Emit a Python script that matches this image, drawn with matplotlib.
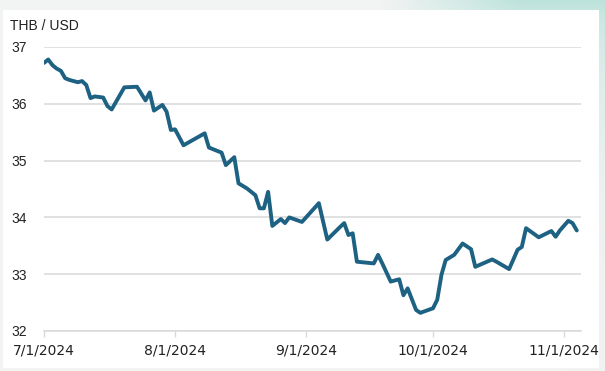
import numpy as np
import pandas as pd
import matplotlib
matplotlib.use("Agg")
import matplotlib.pyplot as plt
from matplotlib.patches import Rectangle

# Baht per US dollar, Jul - early Nov 2024
dates = [
    "2024-07-01", "2024-07-02", "2024-07-03", "2024-07-04", "2024-07-05",
    "2024-07-06", "2024-07-07", "2024-07-09", "2024-07-10", "2024-07-11",
    "2024-07-12", "2024-07-13", "2024-07-15", "2024-07-16", "2024-07-17",
    "2024-07-20", "2024-07-23", "2024-07-24", "2024-07-25", "2024-07-26",
    "2024-07-27", "2024-07-29", "2024-07-30", "2024-07-31", "2024-08-01",
    "2024-08-03", "2024-08-08", "2024-08-09", "2024-08-12", "2024-08-13",
    "2024-08-15", "2024-08-16", "2024-08-18", "2024-08-20", "2024-08-21",
    "2024-08-22", "2024-08-23", "2024-08-24", "2024-08-26", "2024-08-27",
    "2024-08-28", "2024-08-31", "2024-09-04", "2024-09-06", "2024-09-09",
    "2024-09-10", "2024-09-11", "2024-09-12", "2024-09-13", "2024-09-17",
    "2024-09-18", "2024-09-19", "2024-09-21", "2024-09-23", "2024-09-24",
    "2024-09-25", "2024-09-27", "2024-09-28", "2024-10-01", "2024-10-02",
    "2024-10-03", "2024-10-04", "2024-10-06", "2024-10-08", "2024-10-10",
    "2024-10-11", "2024-10-15", "2024-10-16", "2024-10-19", "2024-10-21",
    "2024-10-22", "2024-10-23", "2024-10-26", "2024-10-29", "2024-10-30",
    "2024-10-31", "2024-11-02", "2024-11-03", "2024-11-04",
]
thb_usd = [
    36.72, 36.78, 36.68, 36.62, 36.58, 36.45, 36.42, 36.38, 36.40, 36.33,
    36.10, 36.13, 36.11, 35.96, 35.90, 36.29, 36.30, 36.18, 36.06, 36.20,
    35.88, 35.98, 35.86, 35.54, 35.55, 35.27, 35.48, 35.23, 35.14, 34.92,
    35.06, 34.60, 34.51, 34.39, 34.16, 34.16, 34.45, 33.85, 33.97, 33.90,
    34.00, 33.92, 34.25, 33.61, 33.83, 33.90, 33.69, 33.72, 33.22, 33.19,
    33.34, 33.19, 32.87, 32.91, 32.63, 32.75, 32.37, 32.32, 32.40, 32.55,
    32.99, 33.25, 33.34, 33.54, 33.44, 33.13, 33.26, 33.22, 33.09, 33.43,
    33.48, 33.81, 33.65, 33.76, 33.66, 33.77, 33.94, 33.90, 33.77,
]
x_ticks = ["2024-07-01", "2024-08-01", "2024-09-01", "2024-10-01", "2024-11-01"]
y_ticks = [32, 33, 34, 35, 36, 37]

dates = pd.to_datetime(dates)
x_ticks = pd.to_datetime(x_ticks)

W, H = 605, 371
fig = plt.figure(figsize=(W / 100, H / 100), dpi=100)

# backdrop: pale grey with a teal wash in the top-right corner
bg = fig.add_axes([0, 0, 1, 1])
yy, xx = np.mgrid[0:H, 0:W]
w = np.clip((xx - 380) / 140, 0, 1) * np.exp(-yy / 60)
w = np.maximum(w, np.clip((xx - 560) / 40, 0, 1) * np.exp(-yy / 110) * 0.85)
base = np.array([0.95, 0.955, 0.955])
teal = np.array([0.74, 0.89, 0.86])
img = base * (1 - w[..., None]) + teal * w[..., None]
bg.imshow(img, extent=(0, W, H, 0), aspect="auto")
bg.add_patch(Rectangle((3, 10), 596, 358, facecolor="white", edgecolor="none"))
bg.set_xlim(0, W)
bg.set_ylim(H, 0)
bg.axis("off")

ax = fig.add_axes([44 / W, (H - 331) / H, (581 - 44) / W, (331 - 47) / H])
ax.set_facecolor("none")
ax.plot(dates, thb_usd, color="#1d6183", linewidth=2.8,
        solid_joinstyle="round", solid_capstyle="round", zorder=3)

ax.set_xlim(x_ticks[0], x_ticks[0] + pd.Timedelta(days=127))
ax.set_ylim(32, 37)
ax.set_yticks(y_ticks)
ax.set_yticklabels([str(v) for v in y_ticks], fontsize=10,
                   family="Liberation Sans", color="#222222")
ax.set_xticks(x_ticks)
ax.set_xticklabels([f"{d.month}/{d.day}/{d.year}" for d in x_ticks],
                   fontsize=10, family="DejaVu Sans", color="#222222")

ax.grid(axis="y", color="#d9d9d9", linewidth=1.1)
ax.tick_params(axis="y", length=0, pad=12)
ax.tick_params(axis="x", length=4, width=1, color="#d9d9d9", pad=5)
for s in ["top", "right", "left"]:
    ax.spines[s].set_visible(False)
ax.spines["bottom"].set_color("#d9d9d9")
ax.spines["bottom"].set_linewidth(1.1)

fig.text(10 / W, 1 - 26 / H, "THB / USD", fontsize=10,
         family="Liberation Sans", color="#222222", va="center", ha="left")

fig.savefig("out.png", dpi=100)
